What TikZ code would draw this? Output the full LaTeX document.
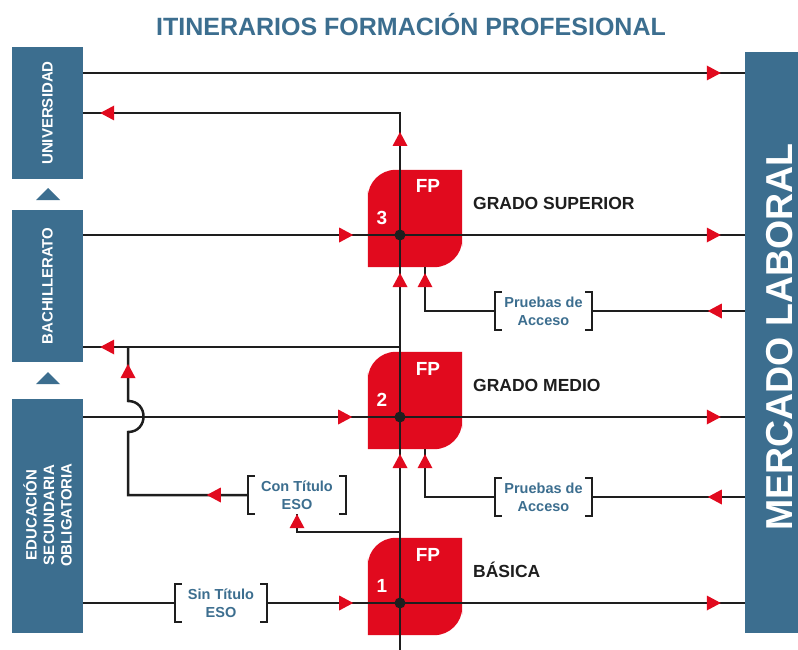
\documentclass[tikz,border=0pt]{standalone}
\usepackage{fontspec}
\setmainfont{Liberation Sans}
\usetikzlibrary{decorations.markings,calc}
\definecolor{boxblue}{HTML}{3C6E8F}
\definecolor{fpred}{HTML}{E10A1E}
\definecolor{ink}{HTML}{1E1E1E}
\newcommand\redtri{\fill[fpred] (7pt,0pt) -- (-7pt,7.5pt) -- (-7pt,-7.5pt) -- cycle;}
\newcommand\fpunit[5]{%
  \node[fpframe] (#1) at (#2,#3) {};
  \fill[fpred] (#1.north) [rounded corners=28pt] -- (#1.north west) -- (#1.west)
     [sharp corners] -- (#1.south west) -- (#1.south)
     [rounded corners=28pt] -- (#1.south east) -- (#1.east)
     [sharp corners] -- (#1.north east) -- cycle;
  \node[fptxt, anchor=base] (#1fp) at ($(#1.center)+(13,-25.5)$) {FP};
  \node[fptxt, anchor=base] (#1num) at ($(#1.center)+(-33,5.5)$) {#4};
  \node[lvl] (#1lbl) at ($(#1.center)+(58,-9.5)$) {#5};
}
\newcommand\brackets[1]{%
  \draw[brkline] ($(#1.north west)+(7,0)$) -- (#1.north west) -- (#1.south west) -- ($(#1.south west)+(7,0)$);
  \draw[brkline] ($(#1.north east)+(-7,0)$) -- (#1.north east) -- (#1.south east) -- ($(#1.south east)+(-7,0)$);
}
\begin{document}
\begin{tikzpicture}[x=1pt,y=-1pt,
  lbox/.style={fill=boxblue, inner sep=0pt, minimum width=71pt},
  ltxt/.style={text=white, font=\bfseries\fontsize{15}{17.5}\selectfont, rotate=90, align=center, inner sep=0pt},
  fpframe/.style={inner sep=0pt, minimum width=94pt, minimum height=97pt},
  fptxt/.style={text=white, font=\bfseries\fontsize{19}{22}\selectfont, inner sep=0pt},
  lvl/.style={text=ink, font=\bfseries\fontsize{17.5}{20}\selectfont, anchor=base west, inner sep=0pt},
  brk/.style={text=boxblue, font=\bfseries\fontsize{14.5}{18}\selectfont, align=center, inner sep=0pt},
  ln/.style={draw=ink, line width=2.5pt},
  brkline/.style={draw=ink, line width=2.3pt},
  ar/.style={postaction={decorate, decoration={markings, mark=at position #1 with {\redtri}}}}
]
\useasboundingbox (0,0) rectangle (798,650);
\fill[white] (0,0) rectangle (798,650);

% title
\node[text=boxblue, font=\bfseries\fontsize{25}{28}\selectfont, anchor=base, inner sep=0pt] (title) at (411,36) {ITINERARIOS FORMACIÓN PROFESIONAL};

% left boxes
\node[lbox, minimum height=132pt] (uni) at (47.5,113) {};
\node[ltxt] (unitxt) at (uni.center) {UNIVERSIDAD};
\node[lbox, minimum height=152pt] (bach) at (47.5,286) {};
\node[ltxt] (bachtxt) at (bach.center) {BACHILLERATO};
\node[lbox, minimum height=234pt] (eso) at (47.5,516) {};
\node[ltxt] (esotxt) at (47.5,515) {EDUCACIÓN\\SECUNDARIA\\OBLIGATORIA};
\fill[boxblue] (36,200) -- (60,200) -- (48,188) -- cycle;
\fill[boxblue] (36,384) -- (60,384) -- (48,372) -- cycle;

% right box
\node[fill=boxblue, inner sep=0pt, minimum width=53pt, minimum height=581pt] (merc) at (771.5,342.5) {};
\node[text=white, font=\bfseries\fontsize{37.5}{40}\selectfont, rotate=90, inner sep=0pt] (merctxt) at (779.5,337) {MERCADO LABORAL};

% FP units
\fpunit{fp3}{415}{218.5}{3}{GRADO SUPERIOR}
\fpunit{fp2}{415}{400.5}{2}{GRADO MEDIO}
\fpunit{fp1}{415}{586.5}{1}{BÁSICA}

% bracket labels
\node[brk, minimum width=97pt, minimum height=38pt] (pa1) at (543.5,311) {Pruebas de\\Acceso};
\node[brk, minimum width=97pt, minimum height=38pt] (pa2) at (543.5,497) {Pruebas de\\Acceso};
\node[brk, minimum width=98pt, minimum height=38pt] (con) at (297,495) {Con Título\\ESO};
\node[brk, minimum width=92pt, minimum height=37pt] (sin) at (221,603) {Sin Título\\ESO};
\brackets{pa1}
\brackets{pa2}
\brackets{con}
\brackets{sin}

% connectors
\draw[ln, ar=-31pt] (uni.east |- 0,73) -- (merc.west |- 0,73);
\draw[ln, ar=189pt, ar=370pt, ar=511pt, ar=-24pt] (400,650) -- (400,113) -- (uni.east |- 0,113);
\draw[ln, ar=263pt, ar=-31pt] (bach.east |- 0,235) -- (merc.west |- 0,235);
\draw[ln, ar=262pt, ar=-31pt] (eso.east |- 0,417) -- (merc.west |- 0,417);
\draw[ln, ar=-24pt] (400,347) -- (bach.east |- 0,347);
\draw[ln, ar=30pt] (merc.west |- pa1.east) -- (pa1.east);
\draw[ln, ar=-13pt] (pa1.west) -| ($(fp3.south)+(10,0)$);
\draw[ln, ar=30pt] (merc.west |- pa2.east) -- (pa2.east);
\draw[ln, ar=-12pt] (pa2.west) -| ($(fp2.south)+(10,0)$);
\draw[ln] (eso.east |- sin.west) -- (sin.west);
\draw[ln, ar=79pt, ar=-31pt] (sin.east) -- (merc.west |- sin.east);
\draw[ln, ar=-7pt] (400,532) -| (con.south);
\draw[ln, ar=34pt, ar=-24pt] (con.west) -- (128,495) -- (128,432)
   .. controls (148.7,432) and (148.7,401) .. (128,401) -- (128,347);

% junction dots
\fill[ink] ($(fp3.center)+(-15,16.5)$) circle[radius=5.5pt];
\fill[ink] ($(fp2.center)+(-15,16.5)$) circle[radius=5.5pt];
\fill[ink] ($(fp1.center)+(-15,16.5)$) circle[radius=5.5pt];
\end{tikzpicture}
\end{document}
